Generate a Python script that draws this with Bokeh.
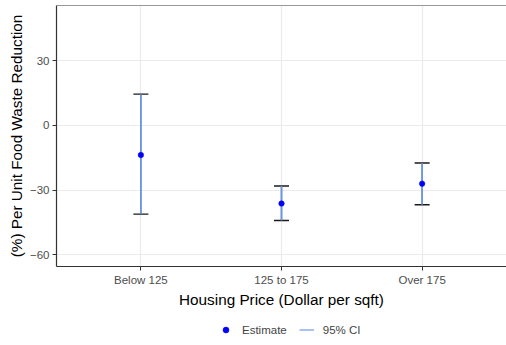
from bokeh.plotting import figure
from bokeh.layouts import column
from bokeh.models import (ColumnDataSource, FactorRange, Range1d, FixedTicker, Whisker, TeeHead,
                          Legend, LegendItem, Span)
from bokeh.embed import file_html
from bokeh.resources import INLINE

categories = ["Below 125", "125 to 175", "Over 175"]
estimate = [-13.7, -36.2, -27.0]
ci_lower = [-41.1, -44.1, -36.8]
ci_upper = [14.5, -28.1, -17.4]
y_ticks = [-60, -30, 0, 30]

src = ColumnDataSource(dict(cat=categories, est=estimate, lo=ci_lower, hi=ci_upper))

FONT = "Liberation Sans"
Y_END = 55.6
CI_COLOR = "#6f95dc"
p = figure(width=506, height=310, output_backend="svg", toolbar_location=None,
           x_range=FactorRange(factors=categories, range_padding=0.1, range_padding_units="absolute"),
           y_range=Range1d(-65.4, Y_END),
           min_border_left=56, min_border_right=0, min_border_top=5, min_border_bottom=41)
p.outline_line_color = None
p.background_fill_color = "white"
p.border_fill_color = "white"

for g in (p.xgrid, p.ygrid):
    g.grid_line_color = "#ebebeb"
    g.grid_line_width = 1.2
p.yaxis.ticker = FixedTicker(ticks=y_ticks)
p.yaxis.major_label_overrides = {t: (str(t).replace("-", "\u2212")) for t in y_ticks}

for ax in (p.xaxis[0], p.yaxis[0]):
    ax.axis_line_color = "#333333"
    ax.axis_line_width = 1.2
    ax.major_tick_in = 0
    ax.major_tick_out = 4
    ax.major_tick_line_color = "#333333"
    ax.minor_tick_line_color = None
    ax.major_label_text_font = FONT
    ax.major_label_text_font_size = "11.5px"
    ax.major_label_text_color = "#4d4d4d"
    ax.axis_label_text_font = FONT
    ax.axis_label_text_font_size = "15.3px"
    ax.axis_label_text_font_style = "normal"
    ax.axis_label_text_color = "black"
    ax.major_label_standoff = 3
    ax.axis_label_standoff = 2

p.xaxis.axis_label = "Housing Price (Dollar per sqft)"
p.yaxis.axis_label = "(%) Per Unit Food Waste Reduction"

p.add_layout(Span(location=Y_END, dimension="width", line_color="#333333", line_width=1.2))

w = Whisker(source=src, base="cat", upper="hi", lower="lo",
            line_color=CI_COLOR, line_width=1.6,
            upper_head=TeeHead(size=15, line_color="#1a1a1a", line_width=1.4),
            lower_head=TeeHead(size=15, line_color="#1a1a1a", line_width=1.4))
p.add_layout(w)
p.segment(x0="cat", y0="lo", x1="cat", y1="hi", source=src, line_color=CI_COLOR, line_width=1.6)
p.scatter(x="cat", y="est", source=src, size=5.5, color="#0000ff", line_color="#0000ff",
          line_width=0.5)

# legend strip below the chart
lf = figure(width=506, height=35, output_backend="svg", toolbar_location=None,
            x_range=FactorRange(factors=categories), y_range=Range1d(-100, -90),
            min_border_left=0, min_border_right=0, min_border_top=0, min_border_bottom=0)
lf.axis.visible = False
lf.grid.visible = False
lf.outline_line_color = None
lf.border_fill_color = "white"
pts_l = lf.scatter(x="cat", y="est", source=src, size=5.5, color="#0000ff", line_color="#0000ff",
                   line_width=0.5, visible=False)
ci_l = lf.segment(x0="cat", y0="lo", x1="cat", y1="hi", source=src,
                  line_color="#94b4ec", line_width=1.6, visible=False)
legend = Legend(items=[LegendItem(label="Estimate", renderers=[pts_l]),
                       LegendItem(label="95% CI", renderers=[ci_l])],
                orientation="horizontal", location=(162, 8),
                label_text_font=FONT, label_text_font_size="11.5px",
                glyph_width=15, glyph_height=15, label_standoff=9, spacing=12,
                padding=4, margin=0, border_line_color=None, background_fill_alpha=0)
lf.add_layout(legend, "center")

open("out.html", "w").write(file_html(column(p, lf, spacing=0), INLINE))
